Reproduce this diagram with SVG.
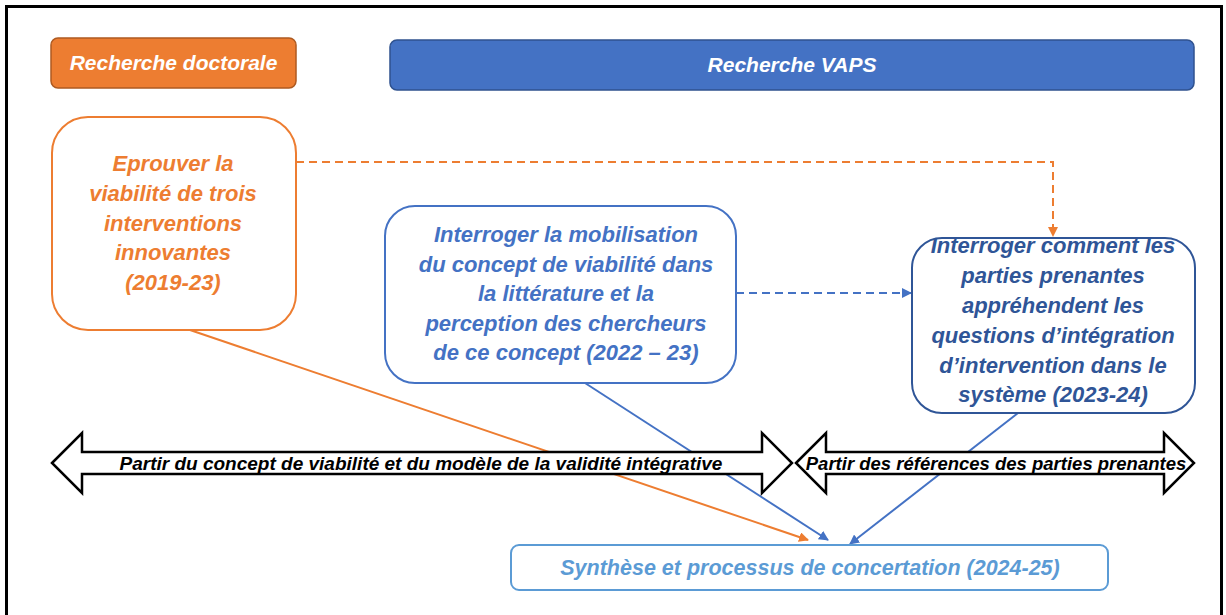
<svg xmlns="http://www.w3.org/2000/svg" width="1226" height="615" viewBox="0 0 1226 615">
<defs>
<style>
text{font-family:"Liberation Sans",Arial,sans-serif;font-weight:bold;font-style:italic;text-anchor:middle}
.or{fill:#ED7D31}
.bl{fill:#4472C4}
.db{fill:#2F5597}
.lb{fill:#5B9BD5}
.wt{fill:#FFFFFF;font-size:21px}
.bt{fill:#000000}
.big{fill:#FFFFFF;stroke:#000000;stroke-width:2.5;stroke-linejoin:miter}
</style>
<marker id="aO" viewBox="0 0 10 10" refX="9" refY="5" markerWidth="5" markerHeight="5" orient="auto" markerUnits="strokeWidth"><path d="M0,0 L10,5 L0,10 Z" fill="#ED7D31"/></marker>
<marker id="aB" viewBox="0 0 10 10" refX="9" refY="5" markerWidth="5" markerHeight="5" orient="auto" markerUnits="strokeWidth"><path d="M0,0 L10,5 L0,10 Z" fill="#4472C4"/></marker>
</defs>
<rect x="0" y="0" width="1226" height="615" fill="#FFFFFF"/>
<rect x="6.5" y="6.5" width="1215" height="620" fill="none" stroke="#000000" stroke-width="3"/>

<g id="connectors">
<path d="M296,162 H1053 V236" fill="none" stroke="#ED7D31" stroke-width="2" stroke-dasharray="8,5" marker-end="url(#aO)"/>
<path d="M736,293 H911" fill="none" stroke="#4472C4" stroke-width="2" stroke-dasharray="8,5" marker-end="url(#aB)"/>
<line x1="190" y1="330" x2="808" y2="540" stroke="#ED7D31" stroke-width="2" marker-end="url(#aO)"/>
<line x1="585" y1="383" x2="828" y2="540" stroke="#4472C4" stroke-width="2" marker-end="url(#aB)"/>
<line x1="1018" y1="413" x2="850" y2="544" stroke="#4472C4" stroke-width="2" marker-end="url(#aB)"/>
</g>

<g id="header-doctorale">
<rect x="51" y="38" width="245" height="50" rx="7" fill="#ED7D31" stroke="#AE5A21" stroke-width="1.5"/>
<text class="wt" x="173.5" y="70">Recherche doctorale</text>
</g>

<g id="header-vaps">
<rect x="390" y="40" width="804" height="50" rx="7" fill="#4472C4" stroke="#2F528F" stroke-width="1.5"/>
<text class="wt" x="792" y="72">Recherche VAPS</text>
</g>

<g id="node-eprouver">
<rect x="52" y="117" width="244" height="213" rx="36" fill="#FFFFFF" stroke="#ED7D31" stroke-width="2"/>
<text class="or" font-size="22" x="173" y="171">Eprouver la</text>
<text class="or" font-size="22" x="173" y="201">viabilité de trois</text>
<text class="or" font-size="22" x="173" y="231">interventions</text>
<text class="or" font-size="22" x="173" y="260">innovantes</text>
<text class="or" font-size="22" x="173" y="290">(2019-23)</text>
</g>

<g id="node-mobilisation">
<rect x="385" y="206" width="351" height="177" rx="30" fill="#FFFFFF" stroke="#4472C4" stroke-width="2"/>
<text class="bl" font-size="22" x="566" y="242">Interroger la mobilisation</text>
<text class="bl" font-size="22" x="566" y="271.5">du concept de viabilité dans</text>
<text class="bl" font-size="22" x="566" y="301">la littérature et la</text>
<text class="bl" font-size="22" x="566" y="330.5">perception des chercheurs</text>
<text class="bl" font-size="22" x="566" y="360">de ce concept (2022 – 23)</text>
</g>

<g id="node-parties">
<rect x="912" y="238" width="283" height="175" rx="30" fill="#FFFFFF" stroke="#2F5597" stroke-width="2"/>
<text class="db" font-size="22" x="1053" y="253">Interroger comment les</text>
<text class="db" font-size="22" x="1053" y="283">parties prenantes</text>
<text class="db" font-size="22" x="1053" y="313">appréhendent les</text>
<text class="db" font-size="22" x="1053" y="343">questions d’intégration</text>
<text class="db" font-size="22" x="1053" y="373">d’intervention dans le</text>
<text class="db" font-size="22" x="1053" y="402">système (2023-24)</text>
</g>

<g id="arrow-concept">
<path class="big" d="M52,463 L82,433 L82,452 L762,452 L762,433 L792,463 L762,493 L762,474 L82,474 L82,493 Z"/>
<text class="bt" font-size="19" x="421" y="470">Partir du concept de viabilité et du modèle de la validité intégrative</text>
</g>

<g id="arrow-references">
<path class="big" d="M796,463 L826,433 L826,452 L1164,452 L1164,433 L1194,463 L1164,493 L1164,474 L826,474 L826,493 Z"/>
<text class="bt" font-size="18.5" x="996" y="470">Partir des références des parties prenantes</text>
</g>

<g id="node-synthese">
<rect x="511" y="545" width="597" height="45" rx="8" fill="#FFFFFF" stroke="#5B9BD5" stroke-width="2"/>
<text class="lb" font-size="21.5" x="810" y="575">Synthèse et processus de concertation (2024-25)</text>
</g>
</svg>
